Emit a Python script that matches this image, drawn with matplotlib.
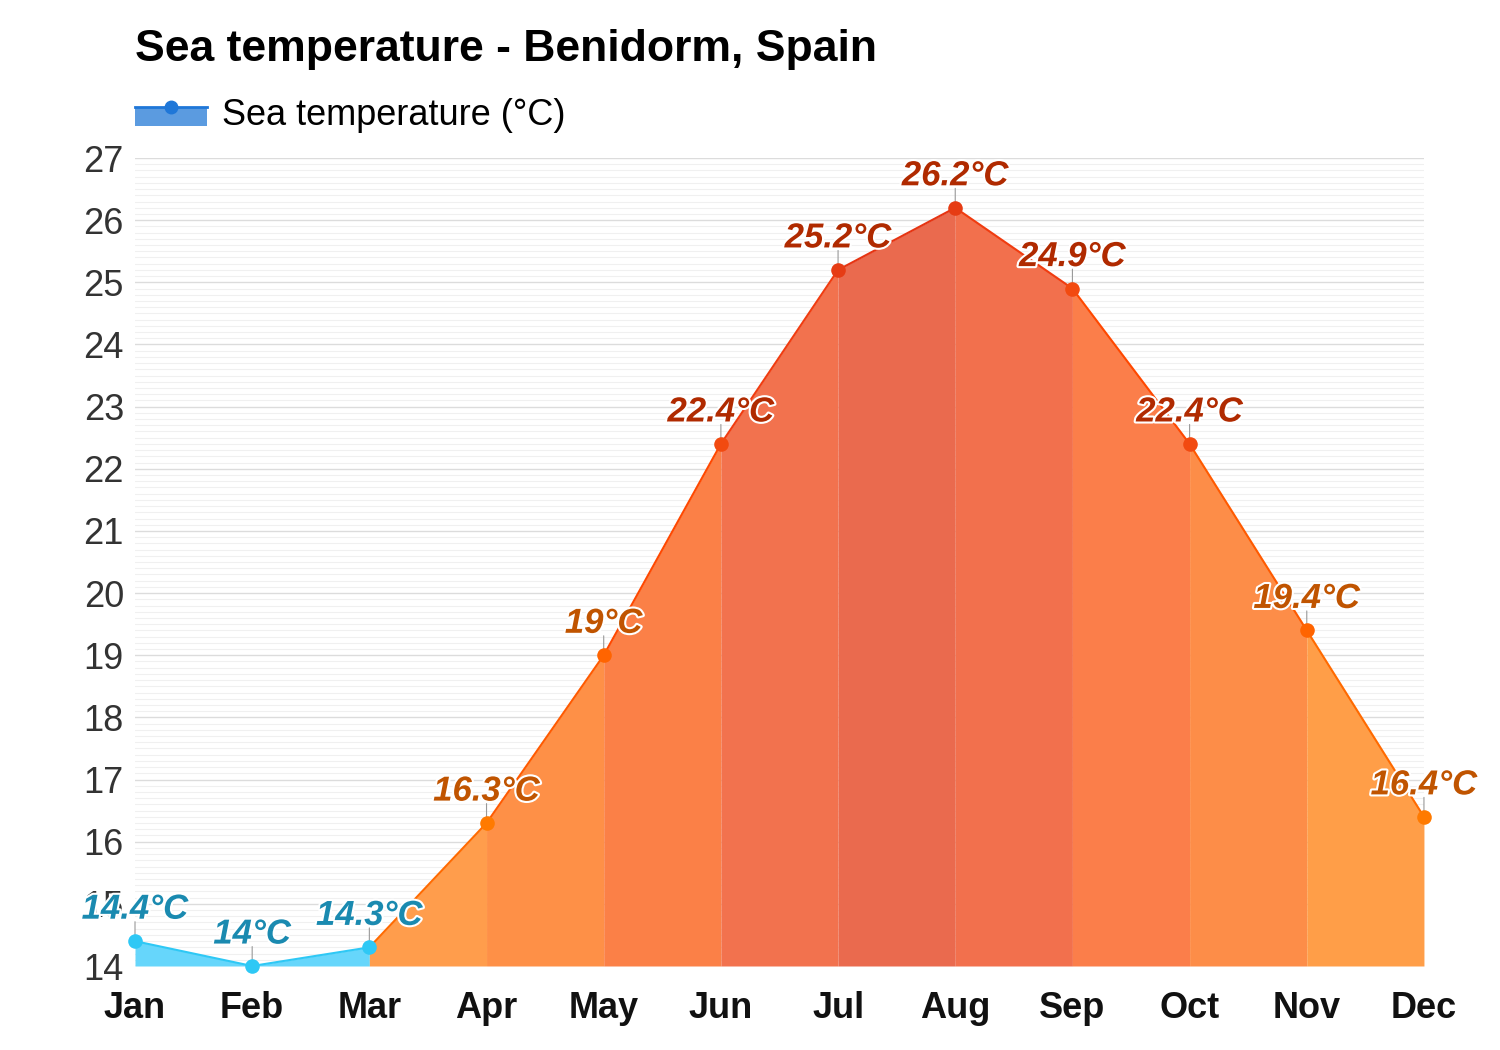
import matplotlib
matplotlib.use('Agg')
from matplotlib import pyplot as plt
from matplotlib.patches import Rectangle
from matplotlib.lines import Line2D
import matplotlib.patheffects as pe
import numpy as np

plt.rcParams['font.family'] = ['Liberation Sans', 'DejaVu Sans']

months = ['Jan', 'Feb', 'Mar', 'Apr', 'May', 'Jun', 'Jul', 'Aug', 'Sep', 'Oct', 'Nov', 'Dec']
sea_temp = [14.4, 14.0, 14.3, 16.3, 19.0, 22.4, 25.2, 26.2, 24.9, 22.4, 19.4, 16.4]
title = 'Sea temperature - Benidorm, Spain'
series_name = 'Sea temperature (°C)'

# colours per segment (between month i and i+1)
seg_fill = ['#66d6fb', '#66d6fb', '#ff9d4c', '#fe9047', '#fb8047', '#f2724e',
            '#ea6a4e', '#f2704d', '#fb7e4a', '#fd8d48', '#ff9e48']
seg_line = ['#2ec8f5', '#2ec8f5', '#ff6a00', '#ff5a00', '#ff4800', '#f03c10',
            '#e63412', '#f03c10', '#ff4800', '#ff5a00', '#ff6a00']
pt_color = ['#2ec8f5', '#2ec8f5', '#2ec8f5', '#ff7a00', '#ff6400', '#f24a10',
            '#e63c14', '#e63c14', '#f24a10', '#f24a10', '#ff6400', '#ff7a00']


def label_color(t):
    if t < 15:
        return '#1a8ab0'
    if t < 20:
        return '#c05400'
    return '#b02a00'


fig = plt.figure(figsize=(15, 10.5), dpi=100)
fig.patch.set_facecolor('white')
ax = fig.add_axes([0.09, 0.08, 0.8593, 0.7695])

x = np.arange(len(months))
for i in range(len(x) - 1):
    xs = x[i:i + 2]
    ys = sea_temp[i:i + 2]
    ax.fill_between(xs, ys, 14, color=seg_fill[i], lw=0, zorder=2)
    ax.plot(xs, ys, color=seg_line[i], lw=1.5, zorder=3)

for i, t in enumerate(sea_temp):
    ax.plot(x[i], t, 'o', ms=10.5, color=pt_color[i], mew=0,
            zorder=5, clip_on=False)
    ax.annotate('', xy=(x[i], t), xytext=(0, 14), textcoords='offset points',
                arrowprops=dict(arrowstyle='-', color='#999999', lw=0.8,
                                shrinkA=0, shrinkB=0), zorder=4)
    ax.annotate(f'{t:g}°C', xy=(x[i], t), xytext=(0, 23), textcoords='offset points',
                ha='center', va='center', fontsize=25, fontweight='bold',
                fontstyle='italic', color=label_color(t), zorder=6,
                path_effects=[pe.withStroke(linewidth=3, foreground='white')])

ax.set_xlim(0, 11)
ax.set_ylim(14, 27)
ax.set_xticks(x)
ax.set_xticklabels(months, fontsize=26, fontweight='bold')
ax.set_yticks(np.arange(14, 28))
ax.set_yticks(np.arange(14, 27.01, 0.1), minor=True)
ax.tick_params(axis='y', labelsize=26, labelcolor='#333333', length=0, pad=8, which='both')
ax.tick_params(axis='x', length=0, pad=18, labelcolor='#111111')
ax.grid(axis='y', which='major', color='#dcdcdc', lw=1, zorder=0)
ax.grid(axis='y', which='minor', color='#f0f0f0', lw=0.8, zorder=0)
for s in ax.spines.values():
    s.set_visible(False)
ax.set_axisbelow(True)

fig.text(0.09, 1 - 49 / 1050, title, fontsize=32, fontweight='bold', va='center', ha='left')


class FillLineHandler:
    def legend_artist(self, legend, orig_handle, fontsize, handlebox):
        x0, y0 = handlebox.xdescent, handlebox.ydescent
        w, h = handlebox.width, handlebox.height
        tr = handlebox.get_transform()
        rect = Rectangle((x0, y0), w, h * 0.9, facecolor='#5b9be0', lw=0, transform=tr)
        line = Line2D([x0, x0 + w], [y0 + h * 0.9] * 2, color='#1f77d8', lw=2, transform=tr)
        dot = Line2D([x0 + w / 2], [y0 + h * 0.9], marker='o', ms=9, color='#1f77d8', transform=tr)
        handlebox.add_artist(rect)
        handlebox.add_artist(line)
        handlebox.add_artist(dot)
        return rect


proxy = Rectangle((0, 0), 1, 1)
fig.legend([proxy], [series_name], handler_map={Rectangle: FillLineHandler()},
           loc='center left', bbox_to_anchor=(0.09, 1 - 115 / 1050), frameon=False,
           fontsize=26, handlelength=2.0, handleheight=0.55, handletextpad=0.4,
           borderpad=0, borderaxespad=0)

fig.savefig('out.png', dpi=100, facecolor='white')
